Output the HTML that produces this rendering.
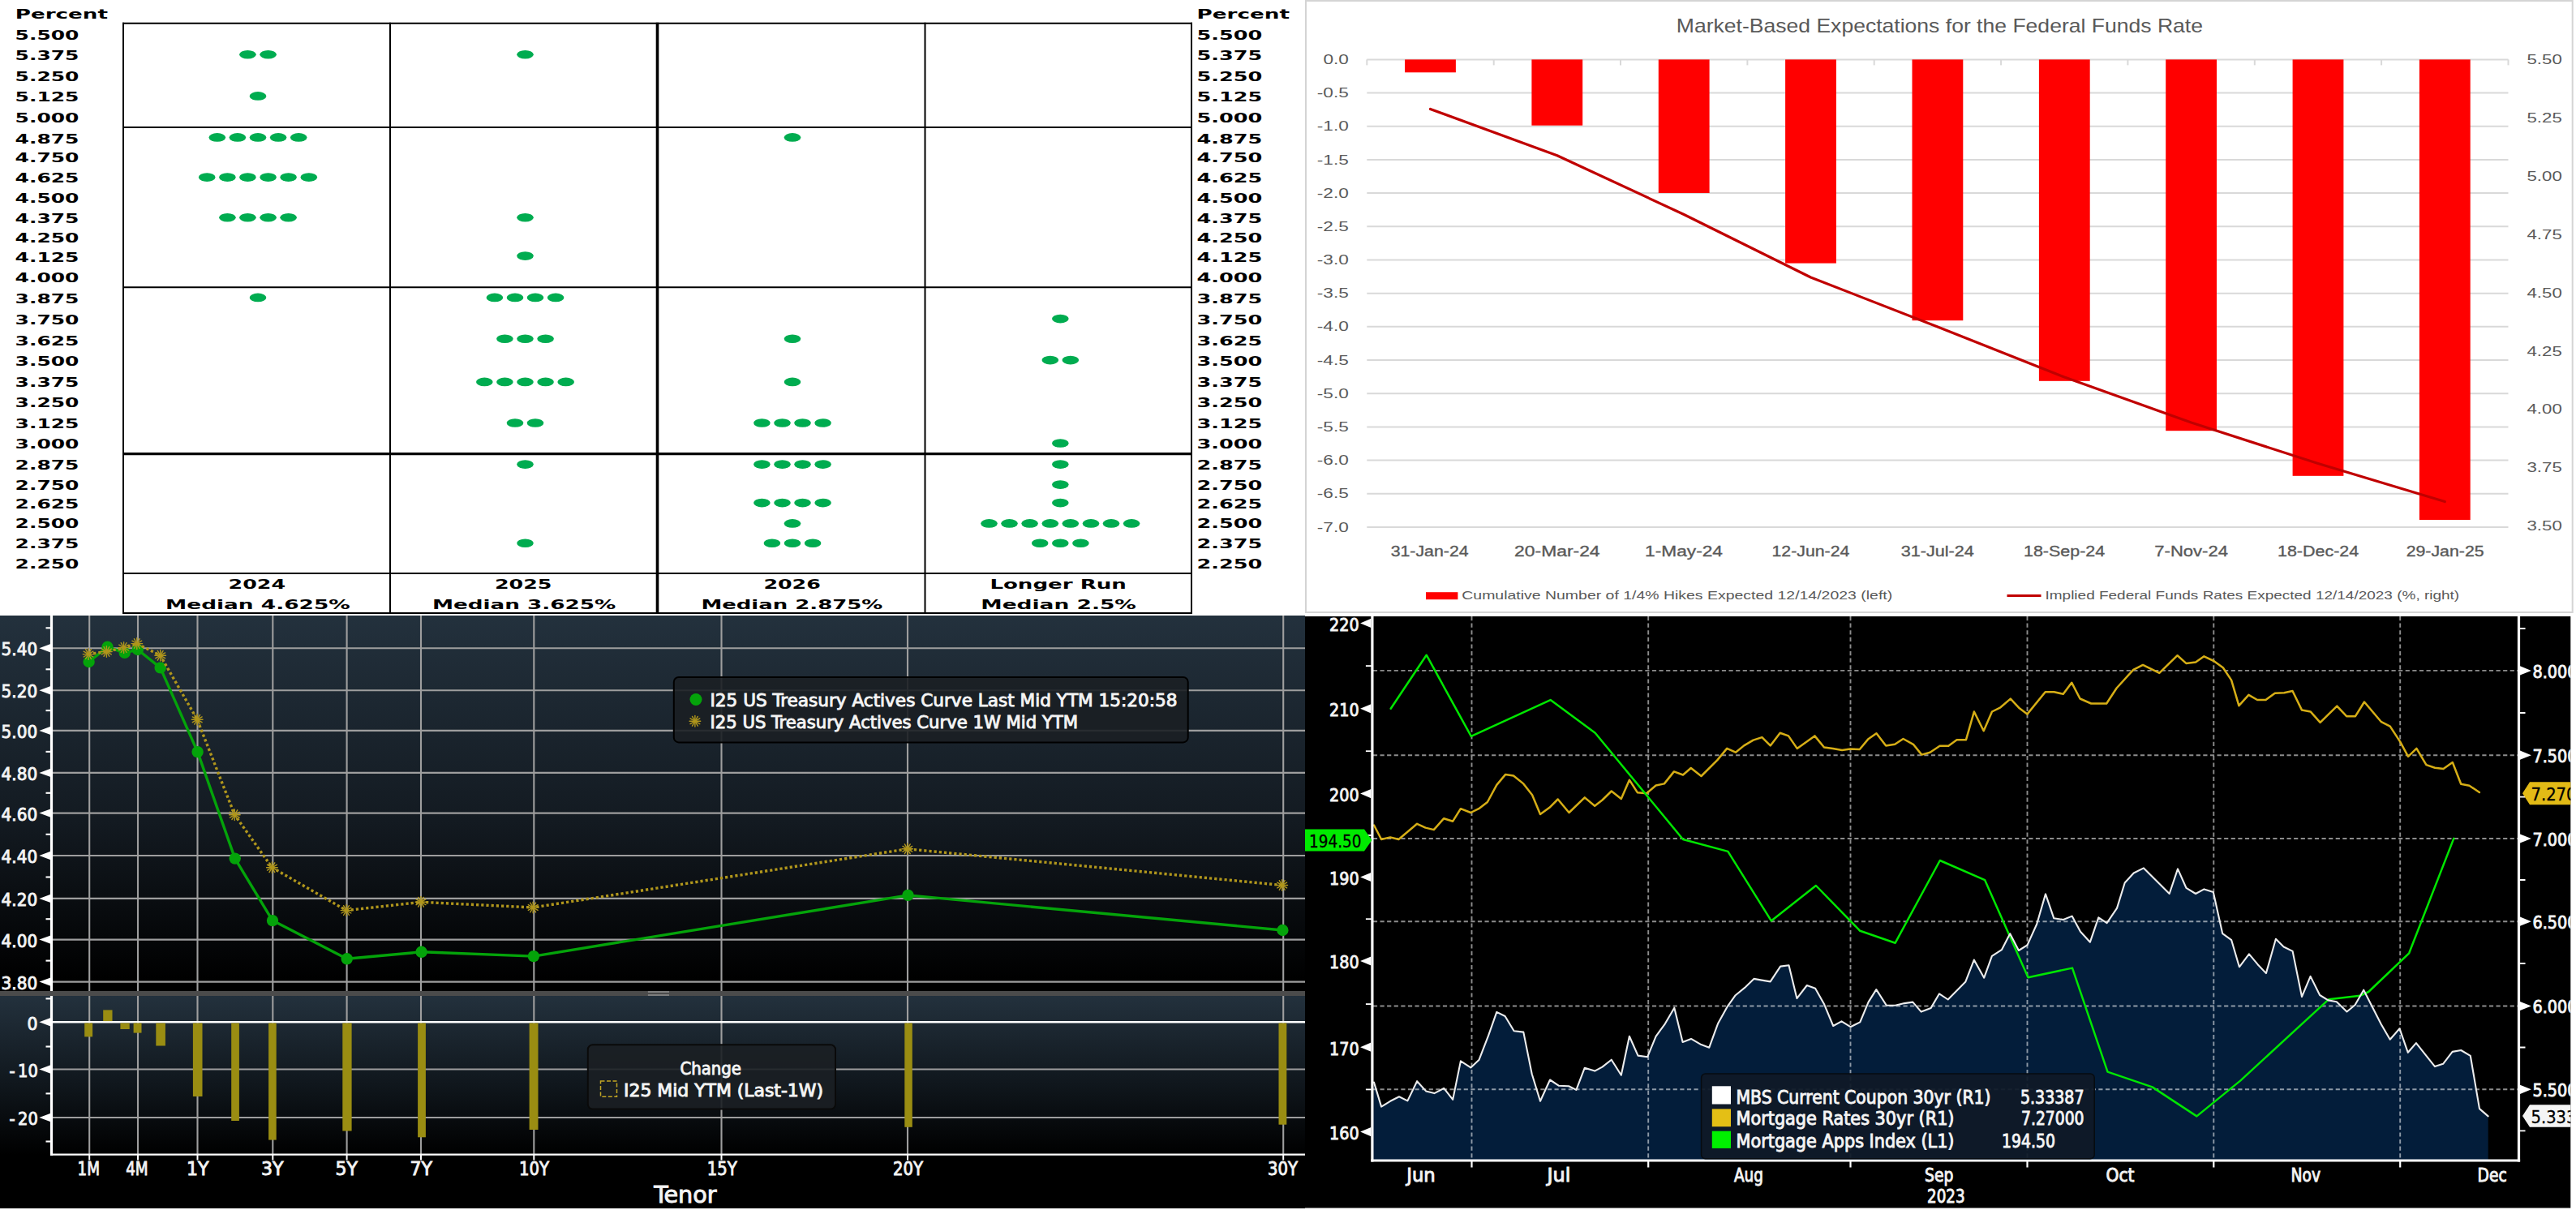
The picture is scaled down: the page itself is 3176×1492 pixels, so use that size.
<!DOCTYPE html>
<html lang="en"><head><meta charset="utf-8"><title>Rates dashboard</title>
<style>
html,body{margin:0;padding:0;background:#fff;}
body{width:3176px;height:1492px;overflow:hidden;}
svg{display:block;}
.v{font-family:"DejaVu Sans","Liberation Sans",sans-serif;font-weight:bold;fill:#000;}
.c{font-family:"Liberation Sans","DejaVu Sans",sans-serif;fill:#595959;}
.b{font-family:"DejaVu Sans Condensed","DejaVu Sans","Liberation Sans",sans-serif;fill:#f4f4f4;stroke:#f4f4f4;stroke-width:.85px;}
.k{font-family:"DejaVu Sans Condensed","DejaVu Sans","Liberation Sans",sans-serif;fill:#000;stroke:#000;stroke-width:.3px;}
</style></head><body>
<svg width="3176" height="1492" viewBox="0 0 3176 1492">
<g id="dotplot">
<rect x="0.0" y="0.0" width="1610.0" height="758.0" fill="#fff"/>
<line x1="152.0" y1="27.7" x2="152.0" y2="757.0" stroke="#000" stroke-width="2"/>
<line x1="481.0" y1="27.7" x2="481.0" y2="757.0" stroke="#000" stroke-width="2"/>
<line x1="810.5" y1="27.7" x2="810.5" y2="757.0" stroke="#000" stroke-width="3.6"/>
<line x1="1140.5" y1="27.7" x2="1140.5" y2="757.0" stroke="#000" stroke-width="2"/>
<line x1="1469.0" y1="27.7" x2="1469.0" y2="757.0" stroke="#000" stroke-width="2"/>
<line x1="151.0" y1="28.7" x2="1470.0" y2="28.7" stroke="#000" stroke-width="2"/>
<line x1="151.0" y1="157.0" x2="1470.0" y2="157.0" stroke="#000" stroke-width="2"/>
<line x1="151.0" y1="354.3" x2="1470.0" y2="354.3" stroke="#000" stroke-width="2"/>
<line x1="151.0" y1="559.6" x2="1470.0" y2="559.6" stroke="#000" stroke-width="3.2"/>
<line x1="151.0" y1="707.0" x2="1470.0" y2="707.0" stroke="#000" stroke-width="2"/>
<line x1="151.0" y1="756.0" x2="1470.0" y2="756.0" stroke="#000" stroke-width="2"/>
<text x="18.8" y="22.8" font-size="15.2" class="v" textLength="114.2" lengthAdjust="spacingAndGlyphs">Percent</text>
<text x="1475.6" y="22.8" font-size="15.2" class="v" textLength="114.4" lengthAdjust="spacingAndGlyphs">Percent</text>
<text x="18.6" y="49.0" font-size="15.2" class="v" textLength="78.8" lengthAdjust="spacingAndGlyphs">5.500</text>
<text x="1475.6" y="49.0" font-size="15.2" class="v" textLength="80.8" lengthAdjust="spacingAndGlyphs">5.500</text>
<text x="18.6" y="73.5" font-size="15.2" class="v" textLength="78.8" lengthAdjust="spacingAndGlyphs">5.375</text>
<text x="1475.6" y="73.5" font-size="15.2" class="v" textLength="80.8" lengthAdjust="spacingAndGlyphs">5.375</text>
<text x="18.6" y="99.6" font-size="15.2" class="v" textLength="78.8" lengthAdjust="spacingAndGlyphs">5.250</text>
<text x="1475.6" y="99.6" font-size="15.2" class="v" textLength="80.8" lengthAdjust="spacingAndGlyphs">5.250</text>
<text x="18.6" y="124.6" font-size="15.2" class="v" textLength="78.8" lengthAdjust="spacingAndGlyphs">5.125</text>
<text x="1475.6" y="124.6" font-size="15.2" class="v" textLength="80.8" lengthAdjust="spacingAndGlyphs">5.125</text>
<text x="18.6" y="150.6" font-size="15.2" class="v" textLength="78.8" lengthAdjust="spacingAndGlyphs">5.000</text>
<text x="1475.6" y="150.6" font-size="15.2" class="v" textLength="80.8" lengthAdjust="spacingAndGlyphs">5.000</text>
<text x="18.6" y="177.2" font-size="15.2" class="v" textLength="78.8" lengthAdjust="spacingAndGlyphs">4.875</text>
<text x="1475.6" y="177.2" font-size="15.2" class="v" textLength="80.8" lengthAdjust="spacingAndGlyphs">4.875</text>
<text x="18.6" y="200.4" font-size="15.2" class="v" textLength="78.8" lengthAdjust="spacingAndGlyphs">4.750</text>
<text x="1475.6" y="200.4" font-size="15.2" class="v" textLength="80.8" lengthAdjust="spacingAndGlyphs">4.750</text>
<text x="18.6" y="224.8" font-size="15.2" class="v" textLength="78.8" lengthAdjust="spacingAndGlyphs">4.625</text>
<text x="1475.6" y="224.8" font-size="15.2" class="v" textLength="80.8" lengthAdjust="spacingAndGlyphs">4.625</text>
<text x="18.6" y="249.6" font-size="15.2" class="v" textLength="78.8" lengthAdjust="spacingAndGlyphs">4.500</text>
<text x="1475.6" y="249.6" font-size="15.2" class="v" textLength="80.8" lengthAdjust="spacingAndGlyphs">4.500</text>
<text x="18.6" y="274.6" font-size="15.2" class="v" textLength="78.8" lengthAdjust="spacingAndGlyphs">4.375</text>
<text x="1475.6" y="274.6" font-size="15.2" class="v" textLength="80.8" lengthAdjust="spacingAndGlyphs">4.375</text>
<text x="18.6" y="299.2" font-size="15.2" class="v" textLength="78.8" lengthAdjust="spacingAndGlyphs">4.250</text>
<text x="1475.6" y="299.2" font-size="15.2" class="v" textLength="80.8" lengthAdjust="spacingAndGlyphs">4.250</text>
<text x="18.6" y="322.8" font-size="15.2" class="v" textLength="78.8" lengthAdjust="spacingAndGlyphs">4.125</text>
<text x="1475.6" y="322.8" font-size="15.2" class="v" textLength="80.8" lengthAdjust="spacingAndGlyphs">4.125</text>
<text x="18.6" y="348.3" font-size="15.2" class="v" textLength="78.8" lengthAdjust="spacingAndGlyphs">4.000</text>
<text x="1475.6" y="348.3" font-size="15.2" class="v" textLength="80.8" lengthAdjust="spacingAndGlyphs">4.000</text>
<text x="18.6" y="373.7" font-size="15.2" class="v" textLength="78.8" lengthAdjust="spacingAndGlyphs">3.875</text>
<text x="1475.6" y="373.7" font-size="15.2" class="v" textLength="80.8" lengthAdjust="spacingAndGlyphs">3.875</text>
<text x="18.6" y="400.0" font-size="15.2" class="v" textLength="78.8" lengthAdjust="spacingAndGlyphs">3.750</text>
<text x="1475.6" y="400.0" font-size="15.2" class="v" textLength="80.8" lengthAdjust="spacingAndGlyphs">3.750</text>
<text x="18.6" y="425.9" font-size="15.2" class="v" textLength="78.8" lengthAdjust="spacingAndGlyphs">3.625</text>
<text x="1475.6" y="425.9" font-size="15.2" class="v" textLength="80.8" lengthAdjust="spacingAndGlyphs">3.625</text>
<text x="18.6" y="450.6" font-size="15.2" class="v" textLength="78.8" lengthAdjust="spacingAndGlyphs">3.500</text>
<text x="1475.6" y="450.6" font-size="15.2" class="v" textLength="80.8" lengthAdjust="spacingAndGlyphs">3.500</text>
<text x="18.6" y="477.4" font-size="15.2" class="v" textLength="78.8" lengthAdjust="spacingAndGlyphs">3.375</text>
<text x="1475.6" y="477.4" font-size="15.2" class="v" textLength="80.8" lengthAdjust="spacingAndGlyphs">3.375</text>
<text x="18.6" y="501.8" font-size="15.2" class="v" textLength="78.8" lengthAdjust="spacingAndGlyphs">3.250</text>
<text x="1475.6" y="501.8" font-size="15.2" class="v" textLength="80.8" lengthAdjust="spacingAndGlyphs">3.250</text>
<text x="18.6" y="528.4" font-size="15.2" class="v" textLength="78.8" lengthAdjust="spacingAndGlyphs">3.125</text>
<text x="1475.6" y="528.4" font-size="15.2" class="v" textLength="80.8" lengthAdjust="spacingAndGlyphs">3.125</text>
<text x="18.6" y="552.5" font-size="15.2" class="v" textLength="78.8" lengthAdjust="spacingAndGlyphs">3.000</text>
<text x="1475.6" y="552.5" font-size="15.2" class="v" textLength="80.8" lengthAdjust="spacingAndGlyphs">3.000</text>
<text x="18.6" y="579.2" font-size="15.2" class="v" textLength="78.8" lengthAdjust="spacingAndGlyphs">2.875</text>
<text x="1475.6" y="579.2" font-size="15.2" class="v" textLength="80.8" lengthAdjust="spacingAndGlyphs">2.875</text>
<text x="18.6" y="603.8" font-size="15.2" class="v" textLength="78.8" lengthAdjust="spacingAndGlyphs">2.750</text>
<text x="1475.6" y="603.8" font-size="15.2" class="v" textLength="80.8" lengthAdjust="spacingAndGlyphs">2.750</text>
<text x="18.6" y="626.5" font-size="15.2" class="v" textLength="78.8" lengthAdjust="spacingAndGlyphs">2.625</text>
<text x="1475.6" y="626.5" font-size="15.2" class="v" textLength="80.8" lengthAdjust="spacingAndGlyphs">2.625</text>
<text x="18.6" y="651.1" font-size="15.2" class="v" textLength="78.8" lengthAdjust="spacingAndGlyphs">2.500</text>
<text x="1475.6" y="651.1" font-size="15.2" class="v" textLength="80.8" lengthAdjust="spacingAndGlyphs">2.500</text>
<text x="18.6" y="675.9" font-size="15.2" class="v" textLength="78.8" lengthAdjust="spacingAndGlyphs">2.375</text>
<text x="1475.6" y="675.9" font-size="15.2" class="v" textLength="80.8" lengthAdjust="spacingAndGlyphs">2.375</text>
<text x="18.6" y="700.8" font-size="15.2" class="v" textLength="78.8" lengthAdjust="spacingAndGlyphs">2.250</text>
<text x="1475.6" y="700.8" font-size="15.2" class="v" textLength="80.8" lengthAdjust="spacingAndGlyphs">2.250</text>
<text x="281.6" y="725.8" font-size="15.2" class="v" textLength="70.4" lengthAdjust="spacingAndGlyphs">2024</text>
<text x="204.0" y="750.8" font-size="15.2" class="v" textLength="227.7" lengthAdjust="spacingAndGlyphs">Median 4.625%</text>
<text x="610.0" y="725.8" font-size="15.2" class="v" textLength="70.4" lengthAdjust="spacingAndGlyphs">2025</text>
<text x="532.9" y="750.8" font-size="15.2" class="v" textLength="226.3" lengthAdjust="spacingAndGlyphs">Median 3.625%</text>
<text x="941.4" y="725.8" font-size="15.2" class="v" textLength="70.5" lengthAdjust="spacingAndGlyphs">2026</text>
<text x="864.4" y="750.8" font-size="15.2" class="v" textLength="223.9" lengthAdjust="spacingAndGlyphs">Median 2.875%</text>
<text x="1220.4" y="725.8" font-size="15.2" class="v" textLength="168.4" lengthAdjust="spacingAndGlyphs">Longer Run</text>
<text x="1209.3" y="750.8" font-size="15.2" class="v" textLength="191.6" lengthAdjust="spacingAndGlyphs">Median 2.5%</text>
<g fill="#00ac50">
<ellipse cx="305.4" cy="67.3" rx="10.3" ry="5.3"/>
<ellipse cx="330.6" cy="67.3" rx="10.3" ry="5.3"/>
<ellipse cx="318.0" cy="118.4" rx="10.3" ry="5.3"/>
<ellipse cx="267.8" cy="169.4" rx="10.3" ry="5.3"/>
<ellipse cx="292.9" cy="169.4" rx="10.3" ry="5.3"/>
<ellipse cx="318.0" cy="169.4" rx="10.3" ry="5.3"/>
<ellipse cx="343.1" cy="169.4" rx="10.3" ry="5.3"/>
<ellipse cx="368.2" cy="169.4" rx="10.3" ry="5.3"/>
<ellipse cx="255.2" cy="218.6" rx="10.3" ry="5.3"/>
<ellipse cx="280.4" cy="218.6" rx="10.3" ry="5.3"/>
<ellipse cx="305.4" cy="218.6" rx="10.3" ry="5.3"/>
<ellipse cx="330.6" cy="218.6" rx="10.3" ry="5.3"/>
<ellipse cx="355.6" cy="218.6" rx="10.3" ry="5.3"/>
<ellipse cx="380.8" cy="218.6" rx="10.3" ry="5.3"/>
<ellipse cx="280.4" cy="268.3" rx="10.3" ry="5.3"/>
<ellipse cx="305.4" cy="268.3" rx="10.3" ry="5.3"/>
<ellipse cx="330.6" cy="268.3" rx="10.3" ry="5.3"/>
<ellipse cx="355.6" cy="268.3" rx="10.3" ry="5.3"/>
<ellipse cx="318.0" cy="366.9" rx="10.3" ry="5.3"/>
<ellipse cx="647.5" cy="67.3" rx="10.3" ry="5.3"/>
<ellipse cx="647.5" cy="268.3" rx="10.3" ry="5.3"/>
<ellipse cx="647.5" cy="315.6" rx="10.3" ry="5.3"/>
<ellipse cx="609.9" cy="366.9" rx="10.3" ry="5.3"/>
<ellipse cx="635.0" cy="366.9" rx="10.3" ry="5.3"/>
<ellipse cx="660.0" cy="366.9" rx="10.3" ry="5.3"/>
<ellipse cx="685.1" cy="366.9" rx="10.3" ry="5.3"/>
<ellipse cx="622.4" cy="417.8" rx="10.3" ry="5.3"/>
<ellipse cx="647.5" cy="417.8" rx="10.3" ry="5.3"/>
<ellipse cx="672.6" cy="417.8" rx="10.3" ry="5.3"/>
<ellipse cx="597.3" cy="470.9" rx="10.3" ry="5.3"/>
<ellipse cx="622.4" cy="470.9" rx="10.3" ry="5.3"/>
<ellipse cx="647.5" cy="470.9" rx="10.3" ry="5.3"/>
<ellipse cx="672.6" cy="470.9" rx="10.3" ry="5.3"/>
<ellipse cx="697.7" cy="470.9" rx="10.3" ry="5.3"/>
<ellipse cx="635.0" cy="521.5" rx="10.3" ry="5.3"/>
<ellipse cx="660.0" cy="521.5" rx="10.3" ry="5.3"/>
<ellipse cx="647.5" cy="572.6" rx="10.3" ry="5.3"/>
<ellipse cx="647.5" cy="669.7" rx="10.3" ry="5.3"/>
<ellipse cx="977.0" cy="169.4" rx="10.3" ry="5.3"/>
<ellipse cx="977.0" cy="417.8" rx="10.3" ry="5.3"/>
<ellipse cx="977.0" cy="470.9" rx="10.3" ry="5.3"/>
<ellipse cx="939.4" cy="521.5" rx="10.3" ry="5.3"/>
<ellipse cx="964.5" cy="521.5" rx="10.3" ry="5.3"/>
<ellipse cx="989.5" cy="521.5" rx="10.3" ry="5.3"/>
<ellipse cx="1014.6" cy="521.5" rx="10.3" ry="5.3"/>
<ellipse cx="939.4" cy="572.6" rx="10.3" ry="5.3"/>
<ellipse cx="964.5" cy="572.6" rx="10.3" ry="5.3"/>
<ellipse cx="989.5" cy="572.6" rx="10.3" ry="5.3"/>
<ellipse cx="1014.6" cy="572.6" rx="10.3" ry="5.3"/>
<ellipse cx="939.4" cy="620.1" rx="10.3" ry="5.3"/>
<ellipse cx="964.5" cy="620.1" rx="10.3" ry="5.3"/>
<ellipse cx="989.5" cy="620.1" rx="10.3" ry="5.3"/>
<ellipse cx="1014.6" cy="620.1" rx="10.3" ry="5.3"/>
<ellipse cx="977.0" cy="645.4" rx="10.3" ry="5.3"/>
<ellipse cx="951.9" cy="669.7" rx="10.3" ry="5.3"/>
<ellipse cx="977.0" cy="669.7" rx="10.3" ry="5.3"/>
<ellipse cx="1002.1" cy="669.7" rx="10.3" ry="5.3"/>
<ellipse cx="1307.3" cy="393.1" rx="10.3" ry="5.3"/>
<ellipse cx="1294.8" cy="444.1" rx="10.3" ry="5.3"/>
<ellipse cx="1319.8" cy="444.1" rx="10.3" ry="5.3"/>
<ellipse cx="1307.3" cy="546.5" rx="10.3" ry="5.3"/>
<ellipse cx="1307.3" cy="572.6" rx="10.3" ry="5.3"/>
<ellipse cx="1307.3" cy="597.6" rx="10.3" ry="5.3"/>
<ellipse cx="1307.3" cy="620.1" rx="10.3" ry="5.3"/>
<ellipse cx="1219.5" cy="645.4" rx="10.3" ry="5.3"/>
<ellipse cx="1244.5" cy="645.4" rx="10.3" ry="5.3"/>
<ellipse cx="1269.6" cy="645.4" rx="10.3" ry="5.3"/>
<ellipse cx="1294.8" cy="645.4" rx="10.3" ry="5.3"/>
<ellipse cx="1319.8" cy="645.4" rx="10.3" ry="5.3"/>
<ellipse cx="1345.0" cy="645.4" rx="10.3" ry="5.3"/>
<ellipse cx="1370.0" cy="645.4" rx="10.3" ry="5.3"/>
<ellipse cx="1395.1" cy="645.4" rx="10.3" ry="5.3"/>
<ellipse cx="1282.2" cy="669.7" rx="10.3" ry="5.3"/>
<ellipse cx="1307.3" cy="669.7" rx="10.3" ry="5.3"/>
<ellipse cx="1332.4" cy="669.7" rx="10.3" ry="5.3"/>
</g>
</g>
<g id="ffr">
<rect x="1610.0" y="0.0" width="1566.0" height="758.0" fill="#fff"/>
<rect x="1610" y="1" width="1561.7" height="754" fill="#fff" stroke="#d4d4d4" stroke-width="2"/>
<text x="2066.8" y="39.8" font-size="24" class="c" textLength="649.2" lengthAdjust="spacingAndGlyphs">Market-Based Expectations for the Federal Funds Rate</text>
<line x1="1685.3" y1="73.4" x2="3092.5" y2="73.4" stroke="#d9d9d9" stroke-width="2"/>
<line x1="1685.3" y1="114.6" x2="3092.5" y2="114.6" stroke="#d9d9d9" stroke-width="2"/>
<line x1="1685.3" y1="155.8" x2="3092.5" y2="155.8" stroke="#d9d9d9" stroke-width="2"/>
<line x1="1685.3" y1="196.9" x2="3092.5" y2="196.9" stroke="#d9d9d9" stroke-width="2"/>
<line x1="1685.3" y1="238.1" x2="3092.5" y2="238.1" stroke="#d9d9d9" stroke-width="2"/>
<line x1="1685.3" y1="279.3" x2="3092.5" y2="279.3" stroke="#d9d9d9" stroke-width="2"/>
<line x1="1685.3" y1="320.5" x2="3092.5" y2="320.5" stroke="#d9d9d9" stroke-width="2"/>
<line x1="1685.3" y1="361.7" x2="3092.5" y2="361.7" stroke="#d9d9d9" stroke-width="2"/>
<line x1="1685.3" y1="402.8" x2="3092.5" y2="402.8" stroke="#d9d9d9" stroke-width="2"/>
<line x1="1685.3" y1="444.0" x2="3092.5" y2="444.0" stroke="#d9d9d9" stroke-width="2"/>
<line x1="1685.3" y1="485.2" x2="3092.5" y2="485.2" stroke="#d9d9d9" stroke-width="2"/>
<line x1="1685.3" y1="526.4" x2="3092.5" y2="526.4" stroke="#d9d9d9" stroke-width="2"/>
<line x1="1685.3" y1="567.6" x2="3092.5" y2="567.6" stroke="#d9d9d9" stroke-width="2"/>
<line x1="1685.3" y1="608.7" x2="3092.5" y2="608.7" stroke="#d9d9d9" stroke-width="2"/>
<line x1="1685.3" y1="649.9" x2="3092.5" y2="649.9" stroke="#d9d9d9" stroke-width="2"/>
<line x1="1685.3" y1="73.4" x2="1685.3" y2="80.4" stroke="#d9d9d9" stroke-width="2"/>
<line x1="1841.7" y1="73.4" x2="1841.7" y2="80.4" stroke="#d9d9d9" stroke-width="2"/>
<line x1="1998.0" y1="73.4" x2="1998.0" y2="80.4" stroke="#d9d9d9" stroke-width="2"/>
<line x1="2154.4" y1="73.4" x2="2154.4" y2="80.4" stroke="#d9d9d9" stroke-width="2"/>
<line x1="2310.7" y1="73.4" x2="2310.7" y2="80.4" stroke="#d9d9d9" stroke-width="2"/>
<line x1="2467.1" y1="73.4" x2="2467.1" y2="80.4" stroke="#d9d9d9" stroke-width="2"/>
<line x1="2623.4" y1="73.4" x2="2623.4" y2="80.4" stroke="#d9d9d9" stroke-width="2"/>
<line x1="2779.8" y1="73.4" x2="2779.8" y2="80.4" stroke="#d9d9d9" stroke-width="2"/>
<line x1="2936.1" y1="73.4" x2="2936.1" y2="80.4" stroke="#d9d9d9" stroke-width="2"/>
<line x1="3092.5" y1="73.4" x2="3092.5" y2="80.4" stroke="#d9d9d9" stroke-width="2"/>
<rect x="1732.1" y="73.4" width="62.8" height="15.9" fill="#ff0000"/>
<rect x="1888.4" y="73.4" width="62.8" height="81.3" fill="#ff0000"/>
<rect x="2044.8" y="73.4" width="62.8" height="164.6" fill="#ff0000"/>
<rect x="2201.1" y="73.4" width="62.8" height="251.2" fill="#ff0000"/>
<rect x="2357.5" y="73.4" width="62.8" height="321.8" fill="#ff0000"/>
<rect x="2513.9" y="73.4" width="62.8" height="396.4" fill="#ff0000"/>
<rect x="2670.2" y="73.4" width="62.8" height="457.8" fill="#ff0000"/>
<rect x="2826.6" y="73.4" width="62.8" height="513.4" fill="#ff0000"/>
<rect x="2982.9" y="73.4" width="62.8" height="567.6" fill="#ff0000"/>
<polyline points="1763.5,134.5 1919.8,191.7 2076.2,264.5 2232.5,342.0 2388.9,403.0 2545.3,465.1 2701.6,521.0 2858.0,571.6 3014.3,618.5" fill="none" stroke="#c00000" stroke-width="3.2" stroke-linejoin="round" stroke-linecap="round"/>
<text x="1631.4" y="79.0" font-size="15.6" class="c" textLength="31.4" lengthAdjust="spacingAndGlyphs">0.0</text>
<text x="1623.8" y="120.2" font-size="15.6" class="c" textLength="39.0" lengthAdjust="spacingAndGlyphs">-0.5</text>
<text x="1623.8" y="161.4" font-size="15.6" class="c" textLength="39.0" lengthAdjust="spacingAndGlyphs">-1.0</text>
<text x="1623.8" y="202.5" font-size="15.6" class="c" textLength="39.0" lengthAdjust="spacingAndGlyphs">-1.5</text>
<text x="1623.8" y="243.7" font-size="15.6" class="c" textLength="39.0" lengthAdjust="spacingAndGlyphs">-2.0</text>
<text x="1623.8" y="284.9" font-size="15.6" class="c" textLength="39.0" lengthAdjust="spacingAndGlyphs">-2.5</text>
<text x="1623.8" y="326.1" font-size="15.6" class="c" textLength="39.0" lengthAdjust="spacingAndGlyphs">-3.0</text>
<text x="1623.8" y="367.3" font-size="15.6" class="c" textLength="39.0" lengthAdjust="spacingAndGlyphs">-3.5</text>
<text x="1623.8" y="408.4" font-size="15.6" class="c" textLength="39.0" lengthAdjust="spacingAndGlyphs">-4.0</text>
<text x="1623.8" y="449.6" font-size="15.6" class="c" textLength="39.0" lengthAdjust="spacingAndGlyphs">-4.5</text>
<text x="1623.8" y="490.8" font-size="15.6" class="c" textLength="39.0" lengthAdjust="spacingAndGlyphs">-5.0</text>
<text x="1623.8" y="532.0" font-size="15.6" class="c" textLength="39.0" lengthAdjust="spacingAndGlyphs">-5.5</text>
<text x="1623.8" y="573.2" font-size="15.6" class="c" textLength="39.0" lengthAdjust="spacingAndGlyphs">-6.0</text>
<text x="1623.8" y="614.3" font-size="15.6" class="c" textLength="39.0" lengthAdjust="spacingAndGlyphs">-6.5</text>
<text x="1623.8" y="655.5" font-size="15.6" class="c" textLength="39.0" lengthAdjust="spacingAndGlyphs">-7.0</text>
<text x="3115.5" y="79.0" font-size="15.6" class="c" textLength="43.3" lengthAdjust="spacingAndGlyphs">5.50</text>
<text x="3115.5" y="150.9" font-size="15.6" class="c" textLength="43.3" lengthAdjust="spacingAndGlyphs">5.25</text>
<text x="3115.5" y="222.8" font-size="15.6" class="c" textLength="43.3" lengthAdjust="spacingAndGlyphs">5.00</text>
<text x="3115.5" y="294.7" font-size="15.6" class="c" textLength="43.3" lengthAdjust="spacingAndGlyphs">4.75</text>
<text x="3115.5" y="366.6" font-size="15.6" class="c" textLength="43.3" lengthAdjust="spacingAndGlyphs">4.50</text>
<text x="3115.5" y="438.5" font-size="15.6" class="c" textLength="43.3" lengthAdjust="spacingAndGlyphs">4.25</text>
<text x="3115.5" y="510.4" font-size="15.6" class="c" textLength="43.3" lengthAdjust="spacingAndGlyphs">4.00</text>
<text x="3115.5" y="582.3" font-size="15.6" class="c" textLength="43.3" lengthAdjust="spacingAndGlyphs">3.75</text>
<text x="3115.5" y="654.2" font-size="15.6" class="c" textLength="43.3" lengthAdjust="spacingAndGlyphs">3.50</text>
<text x="1714.7" y="685.6" font-size="18.2" class="c" textLength="95.9" lengthAdjust="spacingAndGlyphs" stroke="#595959" stroke-width=".35">31-Jan-24</text>
<text x="1867.1" y="685.6" font-size="18.2" class="c" textLength="105.5" lengthAdjust="spacingAndGlyphs" stroke="#595959" stroke-width=".35">20-Mar-24</text>
<text x="2028.1" y="685.6" font-size="18.2" class="c" textLength="95.9" lengthAdjust="spacingAndGlyphs" stroke="#595959" stroke-width=".35">1-May-24</text>
<text x="2184.5" y="685.6" font-size="18.2" class="c" textLength="95.8" lengthAdjust="spacingAndGlyphs" stroke="#595959" stroke-width=".35">12-Jun-24</text>
<text x="2343.7" y="685.6" font-size="18.2" class="c" textLength="90.2" lengthAdjust="spacingAndGlyphs" stroke="#595959" stroke-width=".35">31-Jul-24</text>
<text x="2495.0" y="685.6" font-size="18.2" class="c" textLength="100.2" lengthAdjust="spacingAndGlyphs" stroke="#595959" stroke-width=".35">18-Sep-24</text>
<text x="2656.3" y="685.6" font-size="18.2" class="c" textLength="90.6" lengthAdjust="spacingAndGlyphs" stroke="#595959" stroke-width=".35">7-Nov-24</text>
<text x="2808.0" y="685.6" font-size="18.2" class="c" textLength="100.2" lengthAdjust="spacingAndGlyphs" stroke="#595959" stroke-width=".35">18-Dec-24</text>
<text x="2966.7" y="685.6" font-size="18.2" class="c" textLength="95.9" lengthAdjust="spacingAndGlyphs" stroke="#595959" stroke-width=".35">29-Jan-25</text>
<rect x="1758.0" y="730.2" width="39.4" height="9.0" fill="#ff0000"/>
<text x="1802.3" y="738.6" font-size="14.6" class="c" textLength="530.9" lengthAdjust="spacingAndGlyphs" fill="#6a6a6a">Cumulative Number of 1/4% Hikes Expected 12/14/2023 (left)</text>
<line x1="2474.5" y1="734.5" x2="2516.5" y2="734.5" stroke="#c00000" stroke-width="3.2"/>
<text x="2521.5" y="738.6" font-size="14.6" class="c" textLength="510.7" lengthAdjust="spacingAndGlyphs" fill="#6a6a6a">Implied Federal Funds Rates Expected 12/14/2023 (%, right)</text>
</g>
<defs>
<linearGradient id="g1" x1="0" y1="0" x2="0" y2="1"><stop offset="0" stop-color="#23313d"/><stop offset="0.55" stop-color="#131a21"/><stop offset="0.97" stop-color="#000"/></linearGradient>
<linearGradient id="g2" x1="0" y1="0" x2="0" y2="1"><stop offset="0" stop-color="#23313d"/><stop offset="0.55" stop-color="#10171d"/><stop offset="1" stop-color="#000"/></linearGradient>
<g id="star" stroke="#b0961c" stroke-width="1.4" stroke-linecap="round"><line x1="-6.80" y1="-0.00" x2="6.80" y2="0.00"/><line x1="-5.89" y1="-3.40" x2="5.89" y2="3.40"/><line x1="-3.40" y1="-5.89" x2="3.40" y2="5.89"/><line x1="-0.00" y1="-6.80" x2="0.00" y2="6.80"/><line x1="3.40" y1="-5.89" x2="-3.40" y2="5.89"/><line x1="5.89" y1="-3.40" x2="-5.89" y2="3.40"/></g>
</defs>
<g id="curve">
<rect x="0.0" y="759.0" width="1609.0" height="731.0" fill="#000"/>
<rect x="0.0" y="759.0" width="1609.0" height="463.0" fill="url(#g1)"/>
<rect x="0.0" y="1222.0" width="1609.0" height="6.0" fill="#4b4b4b"/>
<rect x="0.0" y="1228.0" width="1609.0" height="196.0" fill="url(#g2)"/>
<line x1="63.0" y1="799.3" x2="1609.0" y2="799.3" stroke="#9e9e9e" stroke-width="2.1"/>
<line x1="63.0" y1="851.3" x2="1609.0" y2="851.3" stroke="#9e9e9e" stroke-width="2.1"/>
<line x1="63.0" y1="900.9" x2="1609.0" y2="900.9" stroke="#9e9e9e" stroke-width="2.1"/>
<line x1="63.0" y1="952.9" x2="1609.0" y2="952.9" stroke="#9e9e9e" stroke-width="2.1"/>
<line x1="63.0" y1="1002.6" x2="1609.0" y2="1002.6" stroke="#9e9e9e" stroke-width="2.1"/>
<line x1="63.0" y1="1055.0" x2="1609.0" y2="1055.0" stroke="#9e9e9e" stroke-width="2.1"/>
<line x1="63.0" y1="1107.9" x2="1609.0" y2="1107.9" stroke="#9e9e9e" stroke-width="2.1"/>
<line x1="63.0" y1="1158.6" x2="1609.0" y2="1158.6" stroke="#9e9e9e" stroke-width="2.1"/>
<line x1="63.0" y1="1210.6" x2="1609.0" y2="1210.6" stroke="#9e9e9e" stroke-width="2.1"/>
<line x1="110.2" y1="759.0" x2="110.2" y2="1222.0" stroke="#9e9e9e" stroke-width="2.1"/>
<line x1="110.2" y1="1228.0" x2="110.2" y2="1424.0" stroke="#9e9e9e" stroke-width="2.1"/>
<line x1="110.2" y1="1424.0" x2="110.2" y2="1430.5" stroke="#fff" stroke-width="2"/>
<line x1="170.0" y1="759.0" x2="170.0" y2="1222.0" stroke="#9e9e9e" stroke-width="2.1"/>
<line x1="170.0" y1="1228.0" x2="170.0" y2="1424.0" stroke="#9e9e9e" stroke-width="2.1"/>
<line x1="170.0" y1="1424.0" x2="170.0" y2="1430.5" stroke="#fff" stroke-width="2"/>
<line x1="243.5" y1="759.0" x2="243.5" y2="1222.0" stroke="#9e9e9e" stroke-width="2.1"/>
<line x1="243.5" y1="1228.0" x2="243.5" y2="1424.0" stroke="#9e9e9e" stroke-width="2.1"/>
<line x1="243.5" y1="1424.0" x2="243.5" y2="1430.5" stroke="#fff" stroke-width="2"/>
<line x1="336.3" y1="759.0" x2="336.3" y2="1222.0" stroke="#9e9e9e" stroke-width="2.1"/>
<line x1="336.3" y1="1228.0" x2="336.3" y2="1424.0" stroke="#9e9e9e" stroke-width="2.1"/>
<line x1="336.3" y1="1424.0" x2="336.3" y2="1430.5" stroke="#fff" stroke-width="2"/>
<line x1="427.6" y1="759.0" x2="427.6" y2="1222.0" stroke="#9e9e9e" stroke-width="2.1"/>
<line x1="427.6" y1="1228.0" x2="427.6" y2="1424.0" stroke="#9e9e9e" stroke-width="2.1"/>
<line x1="427.6" y1="1424.0" x2="427.6" y2="1430.5" stroke="#fff" stroke-width="2"/>
<line x1="519.0" y1="759.0" x2="519.0" y2="1222.0" stroke="#9e9e9e" stroke-width="2.1"/>
<line x1="519.0" y1="1228.0" x2="519.0" y2="1424.0" stroke="#9e9e9e" stroke-width="2.1"/>
<line x1="519.0" y1="1424.0" x2="519.0" y2="1430.5" stroke="#fff" stroke-width="2"/>
<line x1="658.3" y1="759.0" x2="658.3" y2="1222.0" stroke="#9e9e9e" stroke-width="2.1"/>
<line x1="658.3" y1="1228.0" x2="658.3" y2="1424.0" stroke="#9e9e9e" stroke-width="2.1"/>
<line x1="658.3" y1="1424.0" x2="658.3" y2="1430.5" stroke="#fff" stroke-width="2"/>
<line x1="889.5" y1="759.0" x2="889.5" y2="1222.0" stroke="#9e9e9e" stroke-width="2.1"/>
<line x1="889.5" y1="1228.0" x2="889.5" y2="1424.0" stroke="#9e9e9e" stroke-width="2.1"/>
<line x1="889.5" y1="1424.0" x2="889.5" y2="1430.5" stroke="#fff" stroke-width="2"/>
<line x1="1119.0" y1="759.0" x2="1119.0" y2="1222.0" stroke="#9e9e9e" stroke-width="2.1"/>
<line x1="1119.0" y1="1228.0" x2="1119.0" y2="1424.0" stroke="#9e9e9e" stroke-width="2.1"/>
<line x1="1119.0" y1="1424.0" x2="1119.0" y2="1430.5" stroke="#fff" stroke-width="2"/>
<line x1="1582.2" y1="759.0" x2="1582.2" y2="1222.0" stroke="#9e9e9e" stroke-width="2.1"/>
<line x1="1582.2" y1="1228.0" x2="1582.2" y2="1424.0" stroke="#9e9e9e" stroke-width="2.1"/>
<line x1="1582.2" y1="1424.0" x2="1582.2" y2="1430.5" stroke="#fff" stroke-width="2"/>
<line x1="63.0" y1="1318.5" x2="1609.0" y2="1318.5" stroke="#9e9e9e" stroke-width="2.1"/>
<line x1="63.0" y1="1378.0" x2="1609.0" y2="1378.0" stroke="#9e9e9e" stroke-width="2.1"/>
<line x1="63.0" y1="1260.3" x2="1609.0" y2="1260.3" stroke="#fff" stroke-width="2.4"/>
<line x1="63.5" y1="759.0" x2="63.5" y2="1222.0" stroke="#fff" stroke-width="3.2"/>
<line x1="63.5" y1="1228.0" x2="63.5" y2="1424.8" stroke="#fff" stroke-width="3.2"/>
<line x1="62.0" y1="1423.6" x2="1609.0" y2="1423.6" stroke="#fff" stroke-width="2.4"/>
<line x1="798.9" y1="1223.0" x2="825.0" y2="1223.0" stroke="#b0b0b0" stroke-width="1"/>
<line x1="798.9" y1="1227.0" x2="825.0" y2="1227.0" stroke="#b0b0b0" stroke-width="1"/>
<path d="M62.4 794.1L48.4 799.3L62.4 804.5Z" fill="#fff"/>
<text x="1.6" y="808.3" font-size="22" class="b" textLength="44.6" lengthAdjust="spacingAndGlyphs">5.40</text>
<line x1="56.5" y1="774.3" x2="62.0" y2="774.3" stroke="#fff" stroke-width="2.1"/>
<path d="M62.4 846.1L48.4 851.3L62.4 856.5Z" fill="#fff"/>
<text x="1.6" y="860.3" font-size="22" class="b" textLength="44.6" lengthAdjust="spacingAndGlyphs">5.20</text>
<line x1="56.5" y1="825.3" x2="62.0" y2="825.3" stroke="#fff" stroke-width="2.1"/>
<path d="M62.4 895.7L48.4 900.9L62.4 906.1Z" fill="#fff"/>
<text x="1.6" y="909.9" font-size="22" class="b" textLength="44.6" lengthAdjust="spacingAndGlyphs">5.00</text>
<line x1="56.5" y1="876.1" x2="62.0" y2="876.1" stroke="#fff" stroke-width="2.1"/>
<path d="M62.4 947.7L48.4 952.9L62.4 958.1Z" fill="#fff"/>
<text x="1.6" y="961.9" font-size="22" class="b" textLength="44.6" lengthAdjust="spacingAndGlyphs">4.80</text>
<line x1="56.5" y1="926.9" x2="62.0" y2="926.9" stroke="#fff" stroke-width="2.1"/>
<path d="M62.4 997.4L48.4 1002.6L62.4 1007.8Z" fill="#fff"/>
<text x="1.6" y="1011.6" font-size="22" class="b" textLength="44.6" lengthAdjust="spacingAndGlyphs">4.60</text>
<line x1="56.5" y1="977.8" x2="62.0" y2="977.8" stroke="#fff" stroke-width="2.1"/>
<path d="M62.4 1049.8L48.4 1055.0L62.4 1060.2Z" fill="#fff"/>
<text x="1.6" y="1064.0" font-size="22" class="b" textLength="44.6" lengthAdjust="spacingAndGlyphs">4.40</text>
<line x1="56.5" y1="1028.8" x2="62.0" y2="1028.8" stroke="#fff" stroke-width="2.1"/>
<path d="M62.4 1102.7L48.4 1107.9L62.4 1113.1Z" fill="#fff"/>
<text x="1.6" y="1116.9" font-size="22" class="b" textLength="44.6" lengthAdjust="spacingAndGlyphs">4.20</text>
<line x1="56.5" y1="1081.5" x2="62.0" y2="1081.5" stroke="#fff" stroke-width="2.1"/>
<path d="M62.4 1153.4L48.4 1158.6L62.4 1163.8Z" fill="#fff"/>
<text x="1.6" y="1167.6" font-size="22" class="b" textLength="44.6" lengthAdjust="spacingAndGlyphs">4.00</text>
<line x1="56.5" y1="1133.2" x2="62.0" y2="1133.2" stroke="#fff" stroke-width="2.1"/>
<path d="M62.4 1205.4L48.4 1210.6L62.4 1215.8Z" fill="#fff"/>
<text x="1.6" y="1219.6" font-size="22" class="b" textLength="44.6" lengthAdjust="spacingAndGlyphs">3.80</text>
<line x1="56.5" y1="1184.6" x2="62.0" y2="1184.6" stroke="#fff" stroke-width="2.1"/>
<path d="M62.4 1255.1L48.4 1260.3L62.4 1265.5Z" fill="#fff"/>
<text x="33.6" y="1269.5" font-size="22" class="b" textLength="13.0" lengthAdjust="spacingAndGlyphs">0</text>
<path d="M62.4 1313.3L48.4 1318.5L62.4 1323.7Z" fill="#fff"/>
<text x="11.6" y="1327.7" font-size="22" class="b">-</text>
<text x="22.0" y="1327.7" font-size="22" class="b" textLength="24.8" lengthAdjust="spacingAndGlyphs">10</text>
<path d="M62.4 1372.8L48.4 1378.0L62.4 1383.2Z" fill="#fff"/>
<text x="11.6" y="1387.2" font-size="22" class="b">-</text>
<text x="22.0" y="1387.2" font-size="22" class="b" textLength="24.8" lengthAdjust="spacingAndGlyphs">20</text>
<line x1="56.5" y1="1231.4" x2="62.0" y2="1231.4" stroke="#fff" stroke-width="2.1"/>
<line x1="56.5" y1="1290.5" x2="62.0" y2="1290.5" stroke="#fff" stroke-width="2.1"/>
<line x1="56.5" y1="1348.4" x2="62.0" y2="1348.4" stroke="#fff" stroke-width="2.1"/>
<line x1="56.5" y1="1407.5" x2="62.0" y2="1407.5" stroke="#fff" stroke-width="2.1"/>
<rect x="104.2" y="1261.5" width="9.9" height="16.9" fill="#9a8d12"/>
<rect x="127.2" y="1245.4" width="11.3" height="13.7" fill="#9a8d12"/>
<rect x="148.4" y="1261.5" width="11.3" height="7.5" fill="#9a8d12"/>
<rect x="164.6" y="1261.5" width="9.9" height="12.1" fill="#9a8d12"/>
<rect x="192.3" y="1261.5" width="11.6" height="28.0" fill="#9a8d12"/>
<rect x="237.9" y="1261.5" width="11.6" height="90.5" fill="#9a8d12"/>
<rect x="285.2" y="1261.5" width="9.7" height="120.5" fill="#9a8d12"/>
<rect x="331.1" y="1261.5" width="9.6" height="144.1" fill="#9a8d12"/>
<rect x="422.3" y="1261.5" width="11.3" height="133.0" fill="#9a8d12"/>
<rect x="515.1" y="1261.5" width="9.8" height="140.8" fill="#9a8d12"/>
<rect x="652.6" y="1261.5" width="10.9" height="131.5" fill="#9a8d12"/>
<rect x="1115.3" y="1261.5" width="9.5" height="128.3" fill="#9a8d12"/>
<rect x="1576.5" y="1261.5" width="9.8" height="125.2" fill="#9a8d12"/>
<polyline points="109.6,816.0 132.5,797.8 153.7,804.9 169.8,801.0 197.7,823.4 243.6,927.1 289.7,1058.6 336.0,1135.1 427.7,1182.3 519.6,1173.8 657.9,1179.1 1119.5,1103.9 1581.4,1147.0" fill="none" stroke="#04a30a" stroke-width="3.4" stroke-linejoin="round" stroke-linecap="round"/>
<circle cx="109.6" cy="816.0" r="7.2" fill="#04a30a"/>
<circle cx="132.5" cy="797.8" r="7.2" fill="#04a30a"/>
<circle cx="153.7" cy="804.9" r="7.2" fill="#04a30a"/>
<circle cx="169.8" cy="801.0" r="7.2" fill="#04a30a"/>
<circle cx="197.7" cy="823.4" r="7.2" fill="#04a30a"/>
<circle cx="243.6" cy="927.1" r="7.2" fill="#04a30a"/>
<circle cx="289.7" cy="1058.6" r="7.2" fill="#04a30a"/>
<circle cx="336.0" cy="1135.1" r="7.2" fill="#04a30a"/>
<circle cx="427.7" cy="1182.3" r="7.2" fill="#04a30a"/>
<circle cx="519.6" cy="1173.8" r="7.2" fill="#04a30a"/>
<circle cx="657.9" cy="1179.1" r="7.2" fill="#04a30a"/>
<circle cx="1119.5" cy="1103.9" r="7.2" fill="#04a30a"/>
<circle cx="1581.4" cy="1147.0" r="7.2" fill="#04a30a"/>
<polyline points="109.0,806.6 131.4,803.5 152.6,798.6 168.8,793.6 197.7,808.3 243.2,887.3 289.3,1004.7 335.4,1069.7 427.0,1122.6 519.0,1112.3 657.2,1119.0 1118.8,1046.8 1580.7,1091.5" fill="none" stroke="#b0961c" stroke-width="3.4" stroke-dasharray="3.2 3"/>
<use href="#star" x="109.0" y="806.6"/>
<use href="#star" x="131.4" y="803.5"/>
<use href="#star" x="152.6" y="798.6"/>
<use href="#star" x="168.8" y="793.6"/>
<use href="#star" x="197.7" y="808.3"/>
<use href="#star" x="243.2" y="887.3"/>
<use href="#star" x="289.3" y="1004.7"/>
<use href="#star" x="335.4" y="1069.7"/>
<use href="#star" x="427.0" y="1122.6"/>
<use href="#star" x="519.0" y="1112.3"/>
<use href="#star" x="657.2" y="1119.0"/>
<use href="#star" x="1118.8" y="1046.8"/>
<use href="#star" x="1580.7" y="1091.5"/>
<rect x="830.8" y="835" width="633.9" height="80.4" rx="6" fill="#1b1f23" fill-opacity="0.9" stroke="#000" stroke-width="2"/>
<circle cx="858" cy="862.5" r="7.5" fill="#04a30a"/>
<use href="#star" x="856.9" y="889.3"/>
<text x="875.5" y="871.1" font-size="21.2" class="b" textLength="576.0" lengthAdjust="spacingAndGlyphs">I25 US Treasury Actives Curve Last Mid YTM 15:20:58</text>
<text x="875.5" y="898.4" font-size="21.2" class="b" textLength="453.5" lengthAdjust="spacingAndGlyphs">I25 US Treasury Actives Curve 1W Mid YTM</text>
<rect x="724.8" y="1288.2" width="305.2" height="79.4" rx="6" fill="#1b1f23" fill-opacity="0.9" stroke="#0a0a0a" stroke-width="2"/>
<text x="838.5" y="1325.0" font-size="21.2" class="b" textLength="75.5" lengthAdjust="spacingAndGlyphs">Change</text>
<text x="769.0" y="1352.3" font-size="21.2" class="b" textLength="246.0" lengthAdjust="spacingAndGlyphs">I25 Mid YTM (Last-1W)</text>
<rect x="740.5" y="1333" width="20" height="19.3" fill="none" stroke="#c2a624" stroke-width="1.5" stroke-dasharray="5 2.5"/>
<text x="95.5" y="1448.9" font-size="23.2" class="b" textLength="27.5" lengthAdjust="spacingAndGlyphs">1M</text>
<text x="155.2" y="1448.9" font-size="23.2" class="b" textLength="27.5" lengthAdjust="spacingAndGlyphs">4M</text>
<text x="229.9" y="1448.9" font-size="23.2" class="b" textLength="27.5" lengthAdjust="spacingAndGlyphs">1Y</text>
<text x="322.1" y="1448.9" font-size="23.2" class="b" textLength="27.5" lengthAdjust="spacingAndGlyphs">3Y</text>
<text x="413.4" y="1448.9" font-size="23.2" class="b" textLength="27.5" lengthAdjust="spacingAndGlyphs">5Y</text>
<text x="505.5" y="1448.9" font-size="23.2" class="b" textLength="27.5" lengthAdjust="spacingAndGlyphs">7Y</text>
<text x="639.9" y="1448.9" font-size="23.2" class="b" textLength="37.0" lengthAdjust="spacingAndGlyphs">10Y</text>
<text x="871.7" y="1448.9" font-size="23.2" class="b" textLength="37.0" lengthAdjust="spacingAndGlyphs">15Y</text>
<text x="1101.0" y="1448.9" font-size="23.2" class="b" textLength="37.0" lengthAdjust="spacingAndGlyphs">20Y</text>
<text x="1562.9" y="1448.9" font-size="23.2" class="b" textLength="37.0" lengthAdjust="spacingAndGlyphs">30Y</text>
<text x="806.3" y="1483.4" font-size="29" class="b" textLength="77.2" lengthAdjust="spacingAndGlyphs">Tenor</text>
</g>
<g id="mort">
<rect x="1609.0" y="760.0" width="1560.3" height="729.5" fill="#000"/>
<path d="M1694.0 1334.6 L1703.1 1364.6 L1714.1 1357.8 L1725.0 1352.2 L1735.4 1357.4 L1747.1 1333.2 L1758.1 1345.4 L1768.4 1348.1 L1780.2 1341.9 L1791.2 1355.9 L1800.9 1308.4 L1813.3 1316.4 L1823.6 1306.7 L1835.0 1277.2 L1845.3 1247.9 L1855.6 1253.0 L1866.6 1271.2 L1878.3 1272.6 L1888.7 1324.3 L1899.0 1357.8 L1911.0 1331.5 L1922.1 1338.8 L1934.1 1339.2 L1943.4 1343.9 L1953.8 1316.7 L1966.2 1320.6 L1975.5 1315.6 L1986.8 1306.7 L1998.8 1325.7 L2008.9 1277.8 L2019.5 1301.6 L2031.2 1303.2 L2041.6 1277.8 L2052.9 1262.3 L2064.3 1242.7 L2074.6 1285.0 L2085.0 1280.9 L2097.4 1288.1 L2107.3 1291.7 L2118.0 1262.3 L2129.4 1241.7 L2139.7 1227.2 L2151.1 1217.9 L2162.4 1206.9 L2172.0 1208.6 L2182.7 1210.4 L2195.1 1191.6 L2205.5 1190.2 L2215.4 1231.1 L2227.8 1215.0 L2238.1 1218.7 L2248.8 1237.7 L2260.2 1265.0 L2270.5 1259.4 L2281.5 1266.2 L2293.3 1260.4 L2303.6 1235.6 L2313.3 1220.1 L2325.9 1239.8 L2336.7 1239.8 L2348.0 1237.1 L2358.3 1235.6 L2368.7 1247.6 L2380.7 1242.9 L2391.0 1225.3 L2401.7 1232.5 L2423.4 1210.4 L2433.8 1183.6 L2446.2 1205.7 L2455.9 1178.8 L2467.9 1171.2 L2478.2 1151.3 L2488.9 1172.0 L2499.5 1165.4 L2511.2 1139.5 L2522.0 1102.4 L2532.3 1132.3 L2543.9 1134.0 L2554.6 1129.6 L2565.0 1148.8 L2576.9 1161.7 L2587.3 1131.3 L2597.6 1138.1 L2610.0 1119.9 L2619.7 1088.5 L2630.7 1076.5 L2643.0 1070.4 L2674.7 1102.0 L2685.0 1071.4 L2695.4 1094.8 L2707.1 1102.0 L2717.5 1096.4 L2728.8 1099.9 L2740.2 1151.2 L2751.2 1159.2 L2760.9 1192.3 L2772.9 1176.4 L2783.6 1189.2 L2793.9 1200.1 L2805.9 1157.8 L2815.6 1167.5 L2826.6 1172.9 L2838.0 1229.0 L2848.6 1203.9 L2860.1 1227.0 L2870.5 1233.4 L2880.8 1235.3 L2893.5 1247.5 L2903.5 1239.3 L2914.2 1220.7 L2935.8 1263.0 L2946.7 1281.7 L2958.5 1268.3 L2968.8 1297.8 L2978.9 1286.1 L3002.0 1315.1 L3012.1 1311.8 L3023.6 1296.9 L3034.2 1295.0 L3045.8 1301.8 L3057.0 1367.1 L3067.7 1376.4 L3067.7 1431 L1691.9 1431 Z" fill="#031d3a"/>
<line x1="1692.9" y1="826.9" x2="3104.5" y2="826.9" stroke="#fff" stroke-width="1.9" stroke-opacity=".55" stroke-dasharray="5.2 3.4"/>
<line x1="1692.9" y1="931.2" x2="3104.5" y2="931.2" stroke="#fff" stroke-width="1.9" stroke-opacity=".55" stroke-dasharray="5.2 3.4"/>
<line x1="1692.9" y1="1034.0" x2="3104.5" y2="1034.0" stroke="#fff" stroke-width="1.9" stroke-opacity=".55" stroke-dasharray="5.2 3.4"/>
<line x1="1692.9" y1="1136.2" x2="3104.5" y2="1136.2" stroke="#fff" stroke-width="1.9" stroke-opacity=".55" stroke-dasharray="5.2 3.4"/>
<line x1="1692.9" y1="1240.5" x2="3104.5" y2="1240.5" stroke="#fff" stroke-width="1.9" stroke-opacity=".55" stroke-dasharray="5.2 3.4"/>
<line x1="1692.9" y1="1343.3" x2="3104.5" y2="1343.3" stroke="#fff" stroke-width="1.9" stroke-opacity=".55" stroke-dasharray="5.2 3.4"/>
<line x1="1814.5" y1="760.0" x2="1814.5" y2="1431.0" stroke="#fff" stroke-width="1.9" stroke-opacity=".55" stroke-dasharray="5.2 3.4"/>
<line x1="1814.5" y1="1431.0" x2="1814.5" y2="1439.5" stroke="#fff" stroke-width="2.2"/>
<line x1="2032.2" y1="760.0" x2="2032.2" y2="1431.0" stroke="#fff" stroke-width="1.9" stroke-opacity=".55" stroke-dasharray="5.2 3.4"/>
<line x1="2032.2" y1="1431.0" x2="2032.2" y2="1439.5" stroke="#fff" stroke-width="2.2"/>
<line x1="2281.5" y1="760.0" x2="2281.5" y2="1431.0" stroke="#fff" stroke-width="1.9" stroke-opacity=".55" stroke-dasharray="5.2 3.4"/>
<line x1="2281.5" y1="1431.0" x2="2281.5" y2="1439.5" stroke="#fff" stroke-width="2.2"/>
<line x1="2499.5" y1="760.0" x2="2499.5" y2="1431.0" stroke="#fff" stroke-width="1.9" stroke-opacity=".55" stroke-dasharray="5.2 3.4"/>
<line x1="2499.5" y1="1431.0" x2="2499.5" y2="1439.5" stroke="#fff" stroke-width="2.2"/>
<line x1="2729.3" y1="760.0" x2="2729.3" y2="1431.0" stroke="#fff" stroke-width="1.9" stroke-opacity=".55" stroke-dasharray="5.2 3.4"/>
<line x1="2729.3" y1="1431.0" x2="2729.3" y2="1439.5" stroke="#fff" stroke-width="2.2"/>
<line x1="2959.2" y1="760.0" x2="2959.2" y2="1431.0" stroke="#fff" stroke-width="1.9" stroke-opacity=".55" stroke-dasharray="5.2 3.4"/>
<line x1="2959.2" y1="1431.0" x2="2959.2" y2="1439.5" stroke="#fff" stroke-width="2.2"/>
<polyline points="1694.0,1017.5 1703.1,1035.0 1714.1,1032.4 1724.4,1035.0 1747.1,1015.8 1757.5,1020.6 1767.8,1023.1 1780.2,1009.2 1791.2,1012.7 1800.9,997.2 1813.3,1002.0 1823.2,997.2 1833.9,989.0 1845.3,967.9 1856.2,954.9 1866.0,956.5 1878.3,966.4 1889.1,980.3 1899.0,1004.0 1910.4,995.8 1920.7,985.5 1934.5,1002.0 1953.8,983.4 1966.2,993.7 1975.5,986.5 1986.8,975.5 1998.8,985.0 2008.9,961.7 2018.8,977.2 2030.2,978.2 2041.6,968.5 2051.9,966.4 2063.9,951.4 2075.0,955.5 2084.8,947.0 2097.5,957.0 2117.2,937.4 2129.2,922.9 2139.9,927.7 2150.2,919.4 2161.6,912.6 2172.4,909.1 2182.7,919.4 2194.7,903.7 2205.0,907.4 2215.7,922.9 2237.4,907.4 2249.0,921.5 2259.8,922.9 2271.1,925.0 2281.4,923.6 2292.8,924.0 2303.1,911.6 2313.5,904.3 2325.2,919.4 2336.2,917.8 2346.5,911.0 2358.9,917.8 2369.3,930.6 2379.6,927.7 2391.6,919.8 2402.3,919.8 2412.6,912.2 2424.0,912.2 2433.9,877.5 2445.7,901.2 2456.0,877.5 2466.4,872.3 2478.8,861.6 2489.1,872.7 2499.4,880.6 2521.7,853.3 2532.5,853.3 2543.8,855.8 2554.2,841.7 2564.5,861.5 2578.2,867.5 2597.2,867.5 2609.6,848.5 2630.2,825.8 2642.0,819.9 2662.3,829.9 2684.6,808.2 2695.3,817.9 2707.1,816.5 2717.4,809.3 2729.4,815.0 2740.8,823.3 2751.1,838.6 2760.4,870.2 2772.4,856.8 2783.1,863.0 2793.5,863.0 2804.8,854.7 2816.2,854.3 2826.5,852.0 2837.9,875.4 2848.6,877.4 2860.6,890.9 2881.3,870.6 2893.1,883.2 2904.0,883.2 2915.0,865.5 2936.0,890.2 2946.8,895.6 2959.2,914.6 2969.1,932.8 2979.4,922.9 2991.4,943.1 3002.1,946.7 3012.5,948.1 3023.8,940.0 3034.2,966.7 3044.5,968.8 3056.9,977.0" fill="none" stroke="#d6ae16" stroke-width="2.5" stroke-linejoin="round" stroke-linecap="round"/>
<polyline points="1714.7,873.8 1758.7,807.7 1813.8,907.9 1911.6,863.1 1966.7,903.8 2075.0,1035.0 2130.4,1049.9 2183.8,1135.4 2238.9,1092.0 2293.3,1147.8 2336.7,1162.7 2391.8,1061.0 2447.2,1085.2 2500.5,1205.2 2555.0,1193.6 2598.5,1321.6 2653.6,1340.4 2708.4,1376.4 2762.1,1332.6 2871.0,1232.3 2909.8,1227.8 2920.2,1223.0 2970.2,1175.3 3025.3,1033.9" fill="none" stroke="#00e600" stroke-width="2.5" stroke-linejoin="round" stroke-linecap="round"/>
<polyline points="1694.0,1334.6 1703.1,1364.6 1714.1,1357.8 1725.0,1352.2 1735.4,1357.4 1747.1,1333.2 1758.1,1345.4 1768.4,1348.1 1780.2,1341.9 1791.2,1355.9 1800.9,1308.4 1813.3,1316.4 1823.6,1306.7 1835.0,1277.2 1845.3,1247.9 1855.6,1253.0 1866.6,1271.2 1878.3,1272.6 1888.7,1324.3 1899.0,1357.8 1911.0,1331.5 1922.1,1338.8 1934.1,1339.2 1943.4,1343.9 1953.8,1316.7 1966.2,1320.6 1975.5,1315.6 1986.8,1306.7 1998.8,1325.7 2008.9,1277.8 2019.5,1301.6 2031.2,1303.2 2041.6,1277.8 2052.9,1262.3 2064.3,1242.7 2074.6,1285.0 2085.0,1280.9 2097.4,1288.1 2107.3,1291.7 2118.0,1262.3 2129.4,1241.7 2139.7,1227.2 2151.1,1217.9 2162.4,1206.9 2172.0,1208.6 2182.7,1210.4 2195.1,1191.6 2205.5,1190.2 2215.4,1231.1 2227.8,1215.0 2238.1,1218.7 2248.8,1237.7 2260.2,1265.0 2270.5,1259.4 2281.5,1266.2 2293.3,1260.4 2303.6,1235.6 2313.3,1220.1 2325.9,1239.8 2336.7,1239.8 2348.0,1237.1 2358.3,1235.6 2368.7,1247.6 2380.7,1242.9 2391.0,1225.3 2401.7,1232.5 2423.4,1210.4 2433.8,1183.6 2446.2,1205.7 2455.9,1178.8 2467.9,1171.2 2478.2,1151.3 2488.9,1172.0 2499.5,1165.4 2511.2,1139.5 2522.0,1102.4 2532.3,1132.3 2543.9,1134.0 2554.6,1129.6 2565.0,1148.8 2576.9,1161.7 2587.3,1131.3 2597.6,1138.1 2610.0,1119.9 2619.7,1088.5 2630.7,1076.5 2643.0,1070.4 2674.7,1102.0 2685.0,1071.4 2695.4,1094.8 2707.1,1102.0 2717.5,1096.4 2728.8,1099.9 2740.2,1151.2 2751.2,1159.2 2760.9,1192.3 2772.9,1176.4 2783.6,1189.2 2793.9,1200.1 2805.9,1157.8 2815.6,1167.5 2826.6,1172.9 2838.0,1229.0 2848.6,1203.9 2860.1,1227.0 2870.5,1233.4 2880.8,1235.3 2893.5,1247.5 2903.5,1239.3 2914.2,1220.7 2935.8,1263.0 2946.7,1281.7 2958.5,1268.3 2968.8,1297.8 2978.9,1286.1 3002.0,1315.1 3012.1,1311.8 3023.6,1296.9 3034.2,1295.0 3045.8,1301.8 3057.0,1367.1 3067.7,1376.4" fill="none" stroke="#ececec" stroke-width="2.1" stroke-linejoin="round" stroke-linecap="round"/>
<line x1="1691.9" y1="760.0" x2="1691.9" y2="1432.5" stroke="#fff" stroke-width="3.2"/>
<line x1="3105.5" y1="760.0" x2="3105.5" y2="1432.5" stroke="#fff" stroke-width="3.2"/>
<line x1="1690.3" y1="1431.0" x2="3107.1" y2="1431.0" stroke="#fff" stroke-width="3"/>
<path d="M1690.4 762.8L1677.1 768.4L1690.4 774.0Z" fill="#fff"/>
<text x="1639.0" y="777.8" font-size="22" class="b" textLength="36.6" lengthAdjust="spacingAndGlyphs">220</text>
<line x1="1683.9" y1="821.1" x2="1690.9" y2="821.1" stroke="#fff" stroke-width="1.8"/>
<path d="M1690.4 868.2L1677.1 873.8L1690.4 879.4Z" fill="#fff"/>
<text x="1639.0" y="883.2" font-size="22" class="b" textLength="36.6" lengthAdjust="spacingAndGlyphs">210</text>
<line x1="1683.9" y1="926.2" x2="1690.9" y2="926.2" stroke="#fff" stroke-width="1.8"/>
<path d="M1690.4 973.0L1677.1 978.6L1690.4 984.2Z" fill="#fff"/>
<text x="1639.0" y="988.0" font-size="22" class="b" textLength="36.6" lengthAdjust="spacingAndGlyphs">200</text>
<line x1="1683.9" y1="1030.0" x2="1690.9" y2="1030.0" stroke="#fff" stroke-width="1.8"/>
<path d="M1690.4 1075.9L1677.1 1081.5L1690.4 1087.1Z" fill="#fff"/>
<text x="1639.0" y="1090.9" font-size="22" class="b" textLength="36.6" lengthAdjust="spacingAndGlyphs">190</text>
<line x1="1683.9" y1="1133.2" x2="1690.9" y2="1133.2" stroke="#fff" stroke-width="1.8"/>
<path d="M1690.4 1179.4L1677.1 1185.0L1690.4 1190.6Z" fill="#fff"/>
<text x="1639.0" y="1194.4" font-size="22" class="b" textLength="36.6" lengthAdjust="spacingAndGlyphs">180</text>
<line x1="1683.9" y1="1238.1" x2="1690.9" y2="1238.1" stroke="#fff" stroke-width="1.8"/>
<path d="M1690.4 1285.6L1677.1 1291.2L1690.4 1296.8Z" fill="#fff"/>
<text x="1639.0" y="1300.6" font-size="22" class="b" textLength="36.6" lengthAdjust="spacingAndGlyphs">170</text>
<line x1="1683.9" y1="1343.4" x2="1690.9" y2="1343.4" stroke="#fff" stroke-width="1.8"/>
<path d="M1690.4 1390.0L1677.1 1395.6L1690.4 1401.2Z" fill="#fff"/>
<text x="1639.0" y="1405.0" font-size="22" class="b" textLength="36.6" lengthAdjust="spacingAndGlyphs">160</text>
<clipPath id="cr"><rect x="3100" y="760" width="69.3" height="730"/></clipPath>
<g clip-path="url(#cr)">
<line x1="3106.5" y1="775.0" x2="3113.5" y2="775.0" stroke="#fff" stroke-width="1.8"/>
<line x1="3106.5" y1="879.0" x2="3113.5" y2="879.0" stroke="#fff" stroke-width="1.8"/>
<line x1="3106.5" y1="982.6" x2="3113.5" y2="982.6" stroke="#fff" stroke-width="1.8"/>
<line x1="3106.5" y1="1085.0" x2="3113.5" y2="1085.0" stroke="#fff" stroke-width="1.8"/>
<line x1="3106.5" y1="1188.0" x2="3113.5" y2="1188.0" stroke="#fff" stroke-width="1.8"/>
<line x1="3106.5" y1="1291.5" x2="3113.5" y2="1291.5" stroke="#fff" stroke-width="1.8"/>
<line x1="3106.5" y1="1394.3" x2="3113.5" y2="1394.3" stroke="#fff" stroke-width="1.8"/>
<path d="M3107.0 821.3L3120.9 826.9L3107.0 832.5Z" fill="#fff"/>
<text x="3122.4" y="835.7" font-size="22" class="b" textLength="55.1" lengthAdjust="spacingAndGlyphs">8.000</text>
<path d="M3107.0 925.6L3120.9 931.2L3107.0 936.8Z" fill="#fff"/>
<text x="3122.4" y="940.0" font-size="22" class="b" textLength="55.1" lengthAdjust="spacingAndGlyphs">7.500</text>
<path d="M3107.0 1028.4L3120.9 1034.0L3107.0 1039.6Z" fill="#fff"/>
<text x="3122.4" y="1042.8" font-size="22" class="b" textLength="55.1" lengthAdjust="spacingAndGlyphs">7.000</text>
<path d="M3107.0 1130.6L3120.9 1136.2L3107.0 1141.8Z" fill="#fff"/>
<text x="3122.4" y="1145.0" font-size="22" class="b" textLength="55.1" lengthAdjust="spacingAndGlyphs">6.500</text>
<path d="M3107.0 1234.9L3120.9 1240.5L3107.0 1246.1Z" fill="#fff"/>
<text x="3122.4" y="1249.3" font-size="22" class="b" textLength="55.1" lengthAdjust="spacingAndGlyphs">6.000</text>
<path d="M3107.0 1337.7L3120.9 1343.3L3107.0 1348.9Z" fill="#fff"/>
<text x="3122.4" y="1352.1" font-size="22" class="b" textLength="55.1" lengthAdjust="spacingAndGlyphs">5.500</text>
<path d="M3110 978.2L3119 964.2L3180 964.2L3180 992.2L3119 992.2Z" fill="#e2ba16"/>
<text x="3120.5" y="986.8" font-size="22" class="k" textLength="56.0" lengthAdjust="spacingAndGlyphs">7.270</text>
<path d="M3110 1376.0L3119 1362.3L3180 1362.3L3180 1389.7L3119 1389.7Z" fill="#f4f4f4"/>
<text x="3120.5" y="1384.6" font-size="22" class="k" textLength="56.0" lengthAdjust="spacingAndGlyphs">5.333</text>
</g>
<path d="M1609 1022.4L1682 1022.4L1691.4 1036L1682 1049.6L1609 1049.6Z" fill="#00ea00"/>
<text x="1614.0" y="1044.6" font-size="22" class="k" textLength="64.5" lengthAdjust="spacingAndGlyphs">194.50</text>
<rect x="2097.6" y="1324" width="484.6" height="104.8" rx="5" fill="#0f1a27" fill-opacity="0.94" stroke="#070b10" stroke-width="1.5"/>
<rect x="2110.8" y="1339.3" width="23.2" height="22.2" fill="#fff"/>
<rect x="2110.8" y="1367.4" width="23.2" height="21.8" fill="#e4bf15"/>
<rect x="2110.8" y="1394.7" width="23.2" height="21.2" fill="#00f000"/>
<text x="2140.5" y="1360.5" font-size="22.4" class="b" textLength="314.0" lengthAdjust="spacingAndGlyphs">MBS Current Coupon 30yr (R1)</text>
<text x="2491.0" y="1360.5" font-size="22.4" class="b" textLength="78.5" lengthAdjust="spacingAndGlyphs">5.33387</text>
<text x="2140.5" y="1387.4" font-size="22.4" class="b" textLength="269.0" lengthAdjust="spacingAndGlyphs">Mortgage Rates 30yr (R1)</text>
<text x="2492.0" y="1387.4" font-size="22.4" class="b" textLength="77.5" lengthAdjust="spacingAndGlyphs">7.27000</text>
<text x="2140.5" y="1414.6" font-size="22.4" class="b" textLength="269.0" lengthAdjust="spacingAndGlyphs">Mortgage Apps Index (L1)</text>
<text x="2468.0" y="1414.6" font-size="22.4" class="b" textLength="66.0" lengthAdjust="spacingAndGlyphs">194.50</text>
<text x="1734.3" y="1457.0" font-size="22.4" class="b" textLength="35.4" lengthAdjust="spacingAndGlyphs">Jun</text>
<text x="1907.5" y="1457.0" font-size="22.4" class="b" textLength="29.0" lengthAdjust="spacingAndGlyphs">Jul</text>
<text x="2137.9" y="1457.0" font-size="22.4" class="b" textLength="36.0" lengthAdjust="spacingAndGlyphs">Aug</text>
<text x="2373.1" y="1457.0" font-size="22.4" class="b" textLength="35.4" lengthAdjust="spacingAndGlyphs">Sep</text>
<text x="2596.5" y="1457.0" font-size="22.4" class="b" textLength="35.0" lengthAdjust="spacingAndGlyphs">Oct</text>
<text x="2824.5" y="1457.0" font-size="22.4" class="b" textLength="36.5" lengthAdjust="spacingAndGlyphs">Nov</text>
<text x="3054.5" y="1457.0" font-size="22.4" class="b" textLength="36.2" lengthAdjust="spacingAndGlyphs">Dec</text>
<text x="2376.0" y="1483.4" font-size="22.4" class="b" textLength="46.7" lengthAdjust="spacingAndGlyphs">2023</text>
</g>
</svg>
</body></html>
